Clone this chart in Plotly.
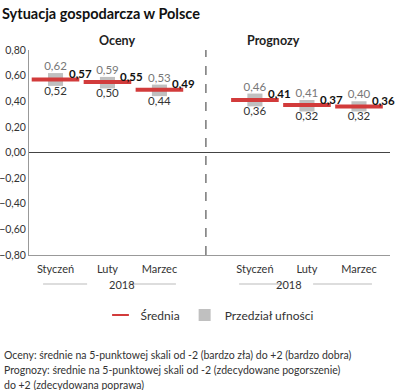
import plotly.graph_objects as go
from plotly.subplots import make_subplots

months = ["Styczeń", "Luty", "Marzec"]
panels = ["Oceny", "Prognozy"]
mean_oceny = [0.57, 0.55, 0.49]
low_oceny = [0.52, 0.50, 0.44]
high_oceny = [0.62, 0.59, 0.53]
mean_progn = [0.41, 0.37, 0.36]
low_progn = [0.36, 0.32, 0.32]
high_progn = [0.46, 0.41, 0.40]
year_label = "2018"
y_ticks = [-0.8, -0.6, -0.4, -0.2, 0.0, 0.2, 0.4, 0.6, 0.8]

RED = "#d23b3b"
GRAY = "#c0c0c0"
FONT = "Lato"

fig = make_subplots(rows=1, cols=2, shared_yaxes=True, horizontal_spacing=0,
                    column_widths=[0.49, 0.51])

groups = [(mean_oceny, low_oceny, high_oceny), (mean_progn, low_progn, high_progn)]
for i, (mean, low, high) in enumerate(groups):
    col = i + 1
    fig.add_trace(go.Bar(
        x=months, y=[h - l for h, l in zip(high, low)], base=low,
        width=0.29, marker=dict(color=GRAY, line=dict(width=0)),
        name="Przedział ufności", showlegend=(i == 0), legendrank=2,
        hoverinfo="skip"), row=1, col=col)
    fig.add_trace(go.Scatter(
        x=months, y=mean, mode="markers",
        marker=dict(symbol="line-ew", size=34, color=RED,
                    line=dict(color=RED, width=4)),
        name="Średnia", showlegend=(i == 0), legendrank=1), row=1, col=col)
    fig.add_trace(go.Scatter(
        x=months, y=high, mode="text",
        text=[f"{v:.2f}".replace(".", ",") for v in high],
        textposition="top center",
        textfont=dict(family=FONT, size=11.5, color="#777777"),
        showlegend=False, hoverinfo="skip"), row=1, col=col)
    fig.add_trace(go.Scatter(
        x=months, y=low, mode="text",
        text=[f"{v:.2f}".replace(".", ",") for v in low],
        textposition="bottom center",
        textfont=dict(family=FONT, size=11.5, color="#333333"),
        showlegend=False, hoverinfo="skip"), row=1, col=col)
    xref = "x" if i == 0 else "x2"
    yref = "y" if i == 0 else "y2"
    for m, v in zip(months, mean):
        fig.add_annotation(x=m, y=v, xref=xref, yref=yref,
                           text=f"<b>{v:.2f}</b>".replace(".", ","),
                           showarrow=False, xanchor="left", yanchor="middle",
                           xshift=11, yshift=6,
                           font=dict(family=FONT, size=11.5, color="#111111"))

axis_common = dict(showline=True, linecolor="#999999", linewidth=1, ticks="",
                   tickfont=dict(family=FONT, size=11, color="#333333"),
                   showgrid=False, zeroline=False, fixedrange=True,
                   ticklabelstandoff=4)
fig.update_xaxes(**axis_common)
fig.update_xaxes(range=[-0.51, 2.894], row=1, col=1)
fig.update_xaxes(range=[-0.942, 2.596], row=1, col=2)
fig.update_yaxes(range=[-0.8, 0.8], tickvals=y_ticks, tickformat=".2f",
                 showgrid=False, zeroline=True, zerolinecolor="#444444",
                 zerolinewidth=1, ticks="", fixedrange=True,
                 tickfont=dict(family=FONT, size=10.5, color="#333333"))
fig.update_yaxes(showline=True, linecolor="#999999", linewidth=1, row=1, col=1)
fig.update_yaxes(showline=False, row=1, col=2)

# panel divider
fig.add_shape(type="line", xref="paper", yref="paper", x0=0.49, x1=0.49,
              y0=0, y1=1, line=dict(color="#777777", width=1.5, dash="dash"))

# panel headers
for px, name in zip([0.188, 0.756], panels):
    fig.add_annotation(x=px, y=1.044, xref="paper", yref="paper", text=f"<b>{name}</b>",
                       showarrow=False, yanchor="middle",
                       font=dict(family=FONT, size=12.5, color="#222222"))

# year labels with rules
for xc, segs in [(0.216, [(0.039, 0.161), (0.274, 0.407)]),
                 (0.763, [(0.582, 0.709), (0.787, 0.950)])]:
    fig.add_annotation(x=xc, y=-0.1415, xref="paper", yref="paper", text=year_label,
                       showarrow=False, yanchor="middle",
                       font=dict(family=FONT, size=11, color="#333333"))
    for a, b in segs:
        fig.add_shape(type="line", xref="paper", yref="paper", x0=a, x1=b,
                      y0=-0.1415, y1=-0.1415, line=dict(color="#bbbbbb", width=1))

notes = ["Oceny: średnie na 5-punktowej skali od -2 (bardzo zła) do +2 (bardzo dobra)",
         "Prognozy: średnie na 5-punktowej skali od -2 (zdecydowane pogorszenie)",
         "do +2 (zdecydowana poprawa)"]
for k, t in enumerate(notes):
    fig.add_annotation(x=-0.075, y=-0.488 - 0.0732 * k, xref="paper", yref="paper",
                       text=t, showarrow=False, xanchor="left", yanchor="middle",
                       font=dict(family=FONT, size=10.5, color="#333333"))

fig.update_layout(
    width=400, height=390,
    margin=dict(l=29, r=10, t=50, b=135, autoexpand=False),
    paper_bgcolor="white", plot_bgcolor="white",
    separators=", ",
    barmode="overlay",
    title=dict(text="<b>Sytuacja gospodarcza w Polsce</b>", x=0.005, xanchor="left",
               y=0.964, yanchor="middle",
               font=dict(family=FONT, size=14.5, color="#111111")),
    legend=dict(orientation="h", x=0.5, xanchor="center", y=-0.293, yanchor="middle",
                font=dict(family=FONT, size=12, color="#333333"),
                itemsizing="constant", traceorder="normal"),
    font=dict(family=FONT),
    showlegend=True,
)

fig.write_html("out.html", config={"displayModeBar": False},
               post_script="document.body.style.margin='0';document.body.style.overflow='hidden';")
